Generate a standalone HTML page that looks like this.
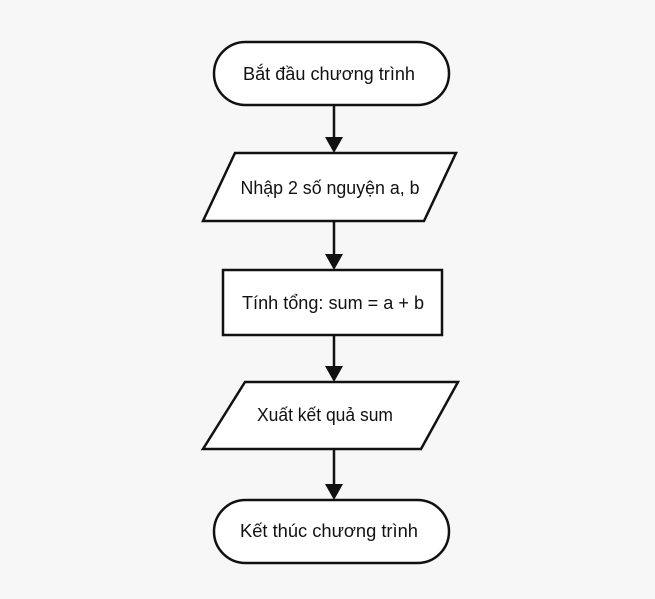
<!DOCTYPE html>
<html><head><meta charset="utf-8"><style>
html,body{margin:0;padding:0;background:#f7f7f7;}
svg{display:block}
text{font-family:"Liberation Sans",sans-serif;font-size:18px;fill:#111;text-anchor:middle;dominant-baseline:central}
</style></head><body>
<svg width="655" height="599" viewBox="0 0 655 599">
<rect width="655" height="599" fill="#f7f7f7"/>
<g fill="#fff" stroke="#111" stroke-width="2.5">
<rect x="214" y="42" width="235" height="63" rx="31.5"/>
<polygon points="235,153 456,153 424,221 203,221"/>
<rect x="223" y="270" width="219" height="65"/>
<polygon points="245,382 458,382 421,449 203,449"/>
<rect x="214" y="500" width="235" height="63" rx="31.5"/>
</g>
<g stroke="#111" stroke-width="2.5">
<line x1="334" y1="105" x2="334" y2="140"/>
<line x1="334" y1="221" x2="334" y2="257"/>
<line x1="334" y1="335" x2="334" y2="369"/>
<line x1="334" y1="449" x2="334" y2="487"/>
</g>
<g fill="#111">
<polygon points="325,137 343,137 334,153"/>
<polygon points="325,254 343,254 334,270"/>
<polygon points="325,366 343,366 334,382"/>
<polygon points="325,484 343,484 334,500"/>
</g>
<text x="329" y="74" textLength="172" lengthAdjust="spacingAndGlyphs">Bắt đầu chương trình</text>
<text x="330" y="188" textLength="179" lengthAdjust="spacingAndGlyphs">Nhập 2 số nguyện a, b</text>
<text x="333" y="303" textLength="182" lengthAdjust="spacingAndGlyphs">Tính tổng: sum = a + b</text>
<text x="325" y="415" textLength="136" lengthAdjust="spacingAndGlyphs">Xuất kết quả sum</text>
<text x="329" y="531" textLength="178" lengthAdjust="spacingAndGlyphs">Kết thúc chương trình</text>
</svg>
</body></html>
